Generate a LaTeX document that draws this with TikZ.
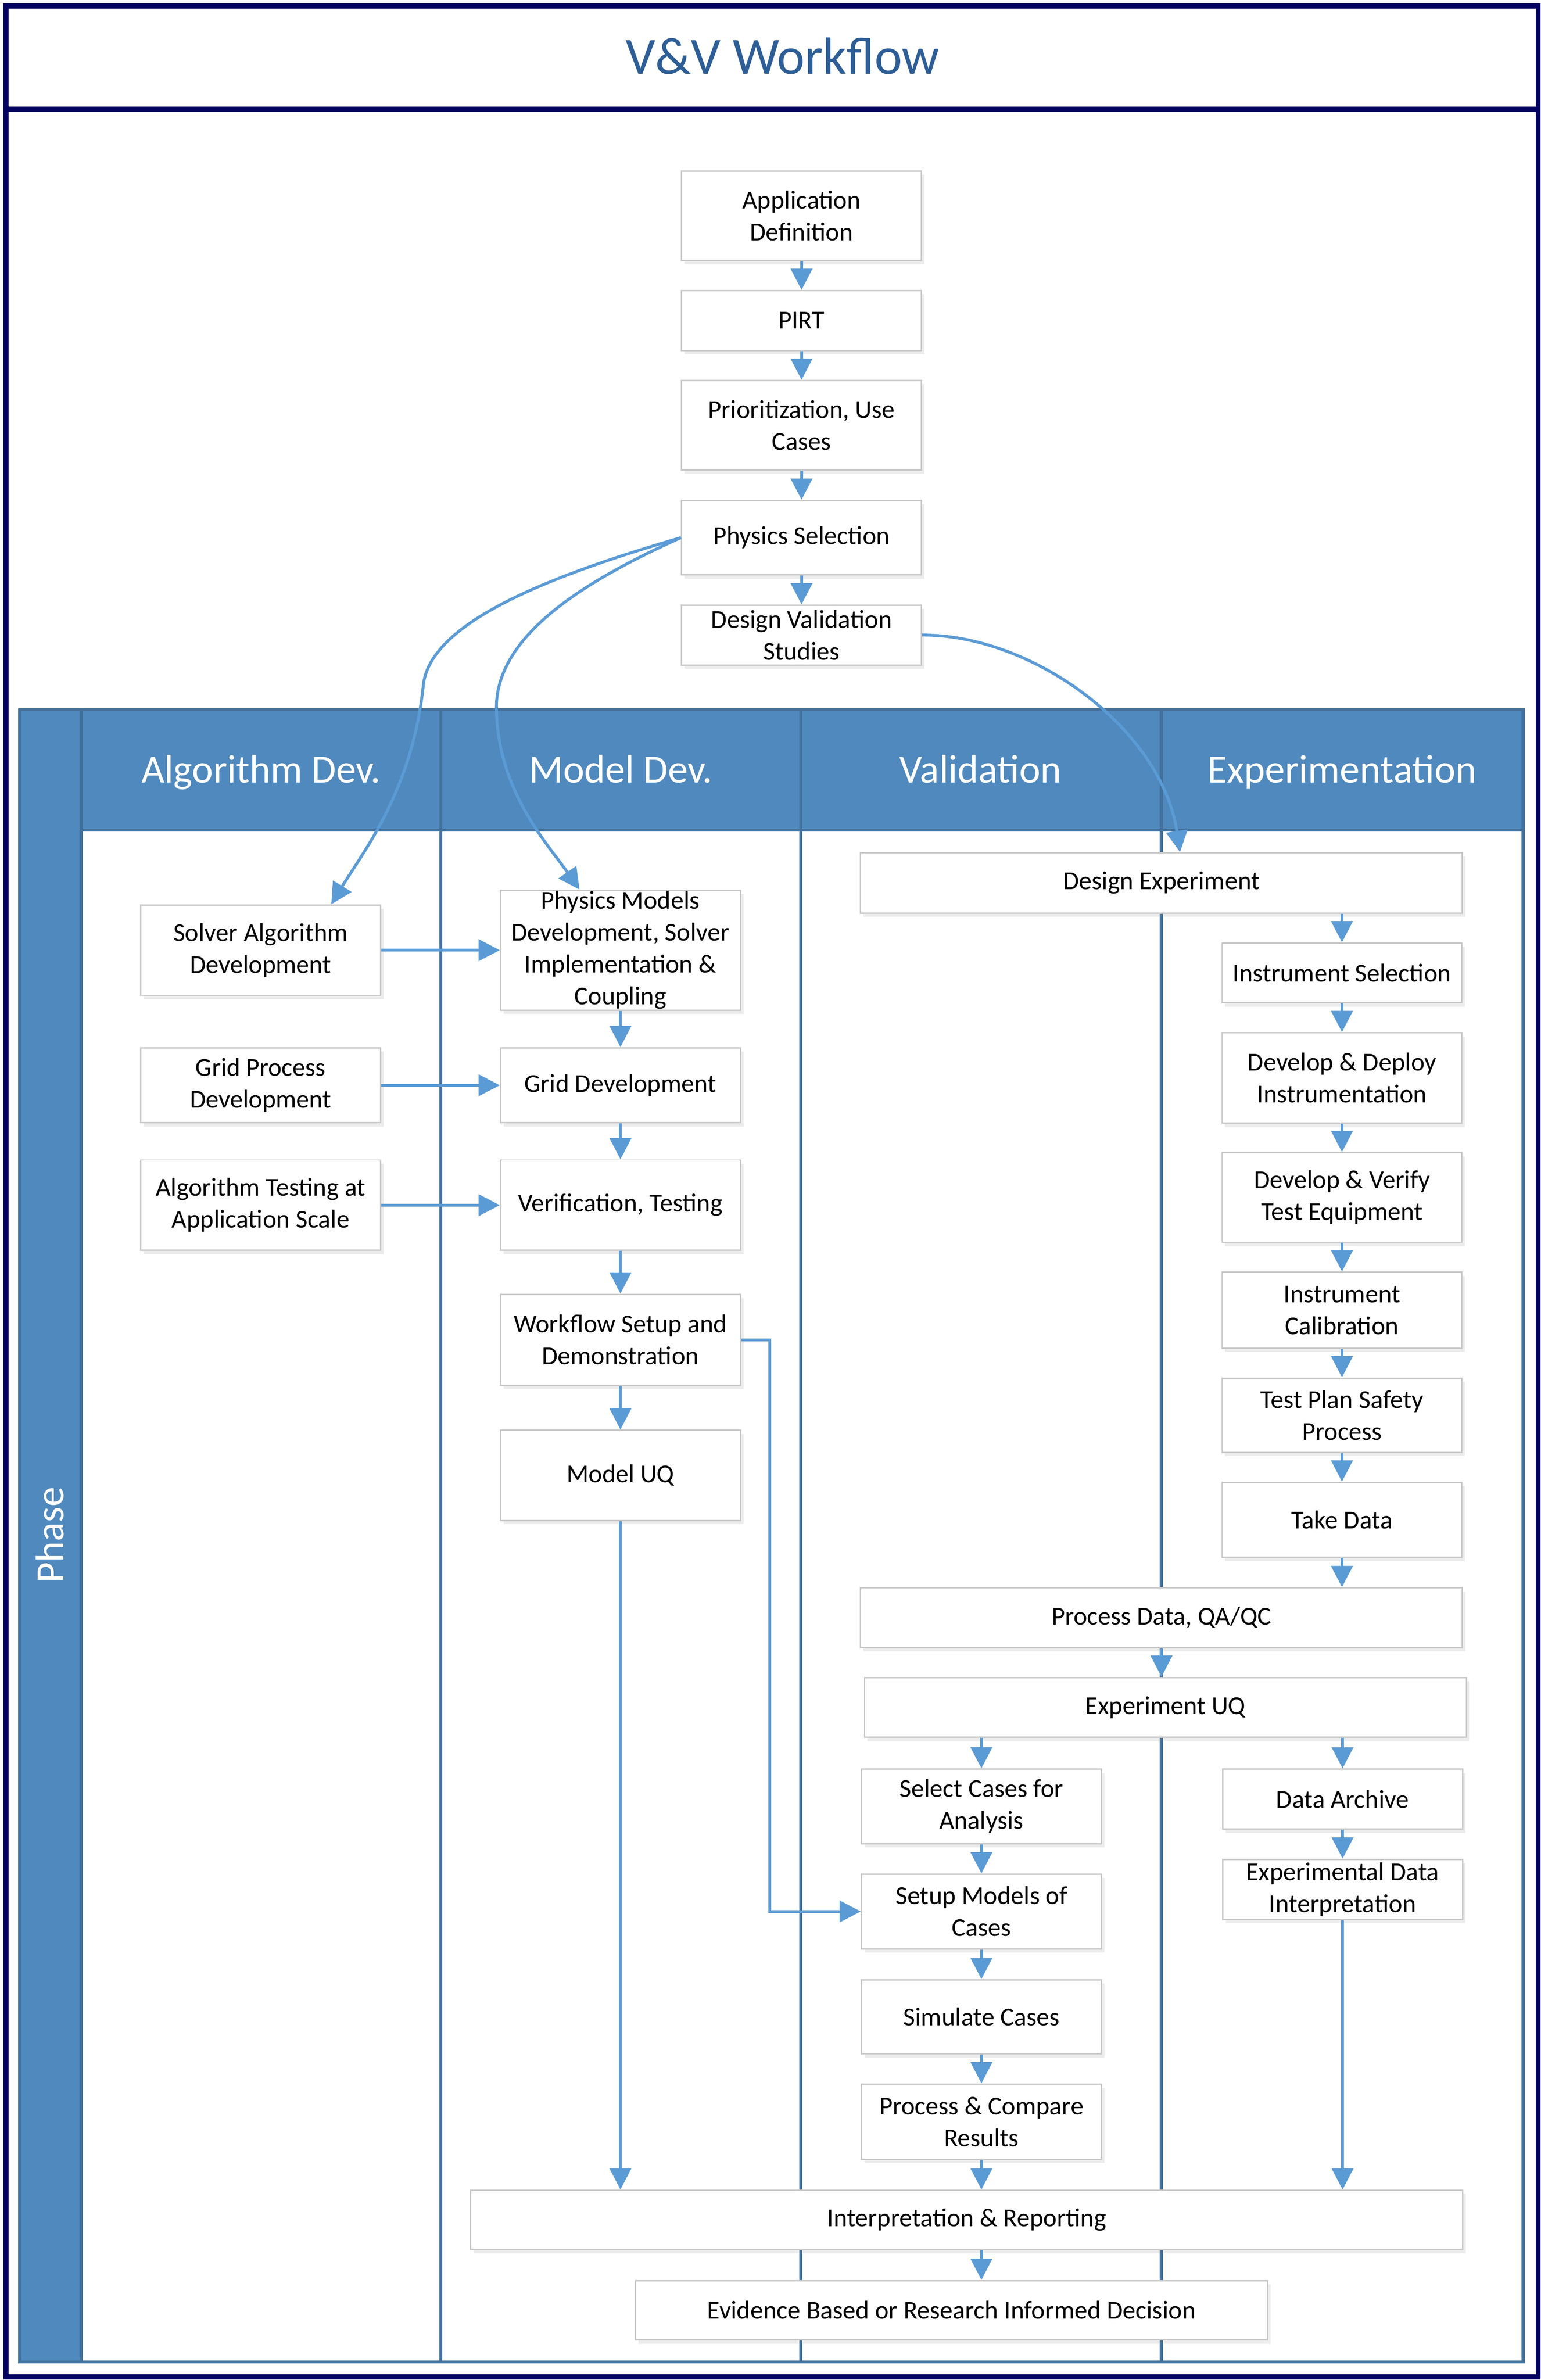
\documentclass[tikz,border=0pt]{standalone}
\usepackage{fontspec}
\setmainfont{Carlito}
\usetikzlibrary{arrows.meta, shadows}
\definecolor{laneblue}{RGB}{80,137,189}
\definecolor{lanedark}{RGB}{65,113,156}
\definecolor{flowblue}{RGB}{91,155,213}
\definecolor{titleblue}{RGB}{46,94,150}
\definecolor{framenavy}{RGB}{2,0,96}
\definecolor{boxgray}{RGB}{200,200,200}
\tikzset{>={Triangle[length = 14pt, width = 14pt]}}
\tikzset{
    box/.style = {draw = boxgray, fill = white, line width = 0.9pt, inner sep = 0pt,
        align = center, minimum width = 158pt, font = \fontsize{17}{21}\selectfont,
        drop shadow = {opacity = 0.15, shadow xshift = 2pt, shadow yshift = -2.5pt}},
    flow/.style = {->, draw = flowblue, line width = 1.9pt},
    lanehead/.style = {text = white, anchor = base, font = \fontsize{26.3}{30}\selectfont},
    laneline/.style = {lanedark, line width = 2pt}
}

\begin{document}
\begin{tikzpicture}[x = 1pt, y = -1pt]
    \useasboundingbox (0,0) rectangle (1015,1568);
    \draw[framenavy, line width = 3.3pt, fill = white] (3.9,3.9) rectangle (1013.3,1566);
    \draw[framenavy, line width = 3.3pt] (3.9,72) -- (1013.3,72);
    \node (title) at (515.5,48.8) [anchor = base, text = titleblue, font = \fontsize{34.5}{40}\selectfont] {V\&V Workflow};
    % swimlanes
    \fill[laneblue] (13,467.5) rectangle (53.5,1556);
    \fill[laneblue] (53.5,467.5) rectangle (1003.4,547);
    \draw[laneline] (13,467.5) rectangle (1003.4,1556);
    \draw[laneline] (53.5,467.5) -- (53.5,1556);
    \draw[laneline] (53.5,547) -- (1003.4,547);
    \foreach \x in {290.3, 527.5, 765}
        \draw[laneline] (\x,467.5) -- (\x,1556);
    \node (phase) at (41.8,1011.3) [lanehead, rotate = 90] {Phase};
    \node (algdev) at (172,515.7) [lanehead] {Algorithm Dev.};
    \node (moddev) at (409,515.7) [lanehead] {Model Dev.};
    \node (valid) at (646,515.7) [lanehead] {Validation};
    \node (expmt) at (884,515.7) [lanehead] {Experimentation};
    % top chain
    \node (appdef) at (528,142.2) [box, minimum height = 59pt] {Application\\Definition};
    \node (pirt) at (528,211.2) [box, minimum height = 39.5pt] {PIRT};
    \node (prio) at (528,280.2) [box, minimum height = 59pt] {Prioritization, Use\\Cases};
    \node (physsel) at (528,354.2) [box, minimum height = 49pt] {Physics Selection};
    \node (dvs) at (528,418.4) [box, minimum height = 39.5pt] {Design Validation\\Studies};
    % algorithm and model lanes
    \node (solver) at (171.7,626) [box, minimum height = 59.5pt] {Solver Algorithm\\Development};
    \node (gridproc) at (171.7,715) [box, minimum height = 49.4pt] {Grid Process\\Development};
    \node (algtest) at (171.7,794) [box, minimum height = 59.5pt] {Algorithm Testing at\\Application Scale};
    \node (physmod) at (408.7,626) [box, minimum height = 79pt] {Physics Models\\Development, Solver\\Implementation \&\\Coupling};
    \node (griddev) at (408.7,715) [box, minimum height = 49.4pt] {Grid Development};
    \node (verif) at (408.7,794) [box, minimum height = 59.5pt] {Verification, Testing};
    \node (wfsetup) at (408.7,882.7) [box, minimum height = 60pt] {Workflow Setup and\\Demonstration};
    \node (modeluq) at (408.7,972) [box, minimum height = 59.4pt] {Model UQ};
    % validation and experimentation lanes
    \node (dexp) at (765.1,581.7) [box, minimum width = 396.4pt, minimum height = 39.8pt] {Design Experiment};
    \node (instsel) at (884,641) [box, minimum height = 39.4pt] {Instrument Selection};
    \node (devdep) at (884,710.2) [box, minimum height = 59.5pt] {Develop \& Deploy\\Instrumentation};
    \node (devver) at (884,789) [box, minimum height = 59pt] {Develop \& Verify\\Test Equipment};
    \node (instcal) at (884,863.2) [box, minimum height = 50pt] {Instrument\\Calibration};
    \node (testplan) at (884,932.4) [box, minimum height = 49pt] {Test Plan Safety\\Process};
    \node (takedata) at (884,1001.3) [box, minimum height = 49.4pt] {Take Data};
    \node (procdata) at (765.1,1065.8) [box, minimum width = 396.4pt, minimum height = 39.4pt] {Process Data, QA/QC};
    \node (expuq) at (767.7,1124.9) [box, minimum width = 396.4pt, minimum height = 39.4pt] {Experiment UQ};
    \node (selcases) at (646.5,1190.1) [box, minimum height = 49.2pt] {Select Cases for\\Analysis};
    \node (setupmod) at (646.5,1259.3) [box, minimum height = 49.2pt] {Setup Models of\\Cases};
    \node (simcases) at (646.5,1328.7) [box, minimum height = 48.7pt] {Simulate Cases};
    \node (proccomp) at (646.5,1397.8) [box, minimum height = 49.6pt] {Process \& Compare\\Results};
    \node (dataarch) at (884.4,1185.3) [box, minimum height = 39.5pt] {Data Archive};
    \node (expdata) at (884.4,1244.7) [box, minimum height = 39.5pt] {Experimental Data\\Interpretation};
    \node (interp) at (636.8,1462.5) [box, minimum width = 653.5pt, minimum height = 39pt] {Interpretation \& Reporting};
    \node (evid) at (626.8,1522) [box, minimum width = 416.3pt, minimum height = 39pt] {Evidence Based or Research Informed Decision};
    % connectors
    \foreach \a/\b in {appdef/pirt, pirt/prio, prio/physsel, physsel/dvs, physmod/griddev,
        griddev/verif, verif/wfsetup, wfsetup/modeluq, instsel/devdep, devdep/devver,
        devver/instcal, instcal/testplan, testplan/takedata, selcases/setupmod,
        setupmod/simcases, simcases/proccomp, dataarch/expdata}
        \draw[flow] (\a.south) -- (\b.north);
    \foreach \a/\b in {solver/physmod, gridproc/griddev, algtest/verif}
        \draw[flow] (\a.east) -- (\b.west);
    \draw[flow] (dexp.south -| instsel.north) -- (instsel.north);
    \draw[flow] (takedata.south) -- (takedata.south |- procdata.north);
    \draw[flow] (procdata.south) -- (procdata.south |- expuq.north);
    \draw[flow] (selcases.north |- expuq.south) -- (selcases.north);
    \draw[flow] (dataarch.north |- expuq.south) -- (dataarch.north);
    \draw[flow] (modeluq.south) -- (modeluq.south |- interp.north);
    \draw[flow] (expdata.south) -- (expdata.south |- interp.north);
    \draw[flow] (proccomp.south) -- (proccomp.south |- interp.north);
    \draw[flow] (proccomp.south |- interp.south) -- (proccomp.south |- evid.north);
    \draw[flow] (wfsetup.east) -- ++(19,0) |- (setupmod.west);
    \draw[flow] (physsel.west) .. controls (360,380) and (285,410) .. (279,450)
        .. controls (272,520) and (240,560) .. (solver.33);
    \draw[flow] (physsel.west) .. controls (380,385) and (328,420) .. (327,465)
        .. controls (327,520) and (360,555) .. (physmod.124);
    \draw[flow] (dvs.east) .. controls (680,418) and (765,480) .. (dexp.59);
    %\node at (physsel.west) [anchor = east] {};
\end{tikzpicture}
\end{document}
